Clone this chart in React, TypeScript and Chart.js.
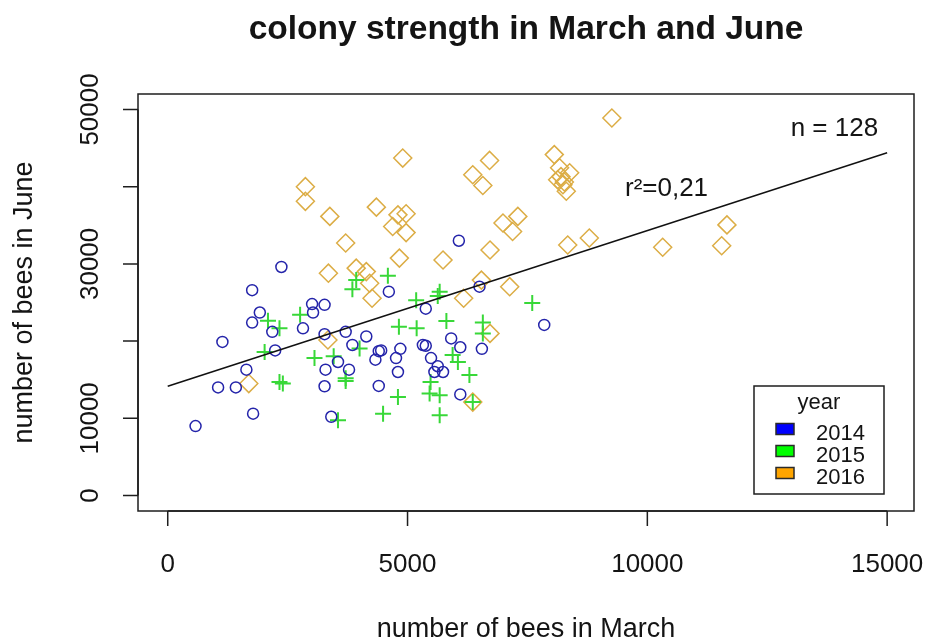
import React, { useEffect, useRef } from "react";
import { Chart, registerables } from "chart.js";

Chart.register(...registerables);

// ---- data ----
const march2014 = [580, 1050, 1420, 1640, 1780, 1140, 1760, 1920, 1760, 2370, 2180, 2240, 2820, 3010, 3270, 3030, 3270, 3710, 3850, 4140, 4450, 4400, 4850, 5320, 5380, 5910, 6100, 6550, 5380, 4330, 4760, 5490, 3550, 3290, 3780, 4800, 5630, 5560, 5740, 3270, 4400, 6100, 3410, 4610, 6070, 6500, 7850];
const june2014 = [9000, 14000, 14000, 16300, 10600, 19900, 22400, 23700, 26600, 29600, 21200, 18800, 21650, 24800, 24700, 23700, 20900, 21200, 19500, 20600, 18800, 18700, 19000, 19500, 19400, 20350, 19200, 19000, 24200, 17600, 17800, 17800, 17300, 16300, 16300, 16000, 16750, 16000, 16000, 14150, 14200, 13100, 10200, 26400, 33000, 27050, 22100];

const march2015 = [3930, 3850, 4590, 5180, 5670, 5630, 7600, 2090, 2330, 2760, 2020, 3060, 3460, 3710, 3710, 2330, 2400, 4000, 4820, 5190, 5810, 6570, 6570, 5940, 6050, 6290, 5480, 5460, 5670, 5670, 4800, 4490, 3550, 6360];
const june2015 = [27900, 26700, 28450, 25300, 26400, 25850, 24950, 22650, 21650, 23400, 18600, 17800, 18050, 14850, 15200, 14700, 14500, 19050, 21850, 21650, 22600, 22400, 21000, 18200, 17300, 15600, 14700, 13200, 13000, 10400, 12750, 10600, 9750, 12100];

const march2016 = [4900, 2870, 2870, 3380, 4350, 4800, 4970, 4690, 4970, 6360, 6710, 6570, 6990, 7300, 7190, 3710, 6720, 4830, 5740, 3350, 3930, 4140, 4210, 4260, 6170, 7130, 6540, 9260, 8060, 8170, 8380, 8130, 8240, 8310, 8340, 8790, 10320, 11660, 11550, 3340, 1690, 6720, 6360, 8200, 8270];
const june2016 = [43700, 40000, 38100, 36150, 37350, 36350, 36500, 34850, 34050, 41550, 43400, 40150, 35300, 36150, 34200, 32700, 31800, 30750, 30500, 28800, 29450, 29000, 27500, 25550, 25550, 27050, 27900, 48900, 44150, 42450, 41800, 40900, 40250, 39400, 32450, 33350, 32150, 35050, 32350, 20150, 14500, 21000, 12100, 41300, 40600];

const fitX = [0, 15000];
const fitY = [14150, 44400];

const years = ["2014", "2015", "2016"];
const legendFill = ["#0000FF", "#00FF00", "#FFA500"];

const xTicks = [0, 5000, 10000, 15000];
const xTickLabels = ["0", "5000", "10000", "15000"];
const yTicks = [0, 10000, 20000, 30000, 40000, 50000];
const yLabelTicks = [0, 10000, 30000, 50000];
const yTickLabels = ["0", "10000", "30000", "50000"];

const titleText = "colony strength in March and June";
const xTitle = "number of bees in March";
const yTitle = "number of bees in June";
const nText = "n = 128";
const nPos = [13900, 46620];
const r2Text = "r\u00B2=0,21";
const r2Pos = [10400, 38740];
const legendTitle = "year";

const FONT = '"Liberation Sans", Arial, sans-serif';
const TEXT = "#141414";

const pts = (xs: number[], ys: number[]) => xs.map((x, i) => ({ x, y: ys[i] }));

const rStylePlugin = {
  id: "rStyle",
  afterDraw(chart: any) {
    const { ctx, chartArea, scales } = chart;
    const { left, right, top, bottom } = chartArea;
    const xs = scales.x;
    const ys = scales.y;
    ctx.save();
    ctx.strokeStyle = "#1e1e1e";
    ctx.lineWidth = 1.5;
    // box
    ctx.strokeRect(left, top, right - left, bottom - top);

    // x axis
    ctx.beginPath();
    const xa = xs.getPixelForValue(xTicks[0]);
    const xb = xs.getPixelForValue(xTicks[xTicks.length - 1]);
    ctx.moveTo(xa, bottom);
    ctx.lineTo(xb, bottom);
    xTicks.forEach((v) => {
      const p = xs.getPixelForValue(v);
      ctx.moveTo(p, bottom);
      ctx.lineTo(p, bottom + 15);
    });
    ctx.stroke();
    ctx.fillStyle = TEXT;
    ctx.font = `26px ${FONT}`;
    ctx.textAlign = "center";
    ctx.textBaseline = "alphabetic";
    xTicks.forEach((v, i) => {
      ctx.fillText(xTickLabels[i], xs.getPixelForValue(v), 571.5);
    });

    // y axis
    ctx.beginPath();
    const ya = ys.getPixelForValue(yTicks[0]);
    const yb = ys.getPixelForValue(yTicks[yTicks.length - 1]);
    ctx.moveTo(left, ya);
    ctx.lineTo(left, yb);
    yTicks.forEach((v) => {
      const p = ys.getPixelForValue(v);
      ctx.moveTo(left, p);
      ctx.lineTo(left - 15, p);
    });
    ctx.stroke();
    yLabelTicks.forEach((v, i) => {
      ctx.save();
      ctx.translate(98, ys.getPixelForValue(v));
      ctx.rotate(-Math.PI / 2);
      ctx.fillText(yTickLabels[i], 0, 0);
      ctx.restore();
    });

    // axis titles
    ctx.font = `27px ${FONT}`;
    ctx.fillText(xTitle, (left + right) / 2, 637);
    ctx.save();
    ctx.translate(32, (top + bottom) / 2);
    ctx.rotate(-Math.PI / 2);
    ctx.fillText(yTitle, 0, 0);
    ctx.restore();

    // main title
    ctx.font = `bold 33.5px ${FONT}`;
    ctx.fillText(titleText, (left + right) / 2, 38.5);

    // annotations
    ctx.font = `26px ${FONT}`;
    ctx.fillText(nText, xs.getPixelForValue(nPos[0]), ys.getPixelForValue(nPos[1]));
    ctx.fillText(r2Text, xs.getPixelForValue(r2Pos[0]), ys.getPixelForValue(r2Pos[1]));

    // legend
    const lx = 754, ly = 386, lw = 130, lh = 108;
    ctx.fillStyle = "#ffffff";
    ctx.fillRect(lx, ly, lw, lh);
    ctx.strokeStyle = "#1e1e1e";
    ctx.strokeRect(lx, ly, lw, lh);
    ctx.fillStyle = TEXT;
    ctx.font = `22px ${FONT}`;
    ctx.textAlign = "center";
    ctx.fillText(legendTitle, lx + lw / 2, 409);
    years.forEach((yr, i) => {
      const cy = 429 + i * 22;
      ctx.fillStyle = legendFill[i];
      ctx.fillRect(776, cy - 5.5, 18, 11);
      ctx.strokeStyle = "#2a2a2a";
      ctx.lineWidth = 1.5;
      ctx.strokeRect(776, cy - 5.5, 18, 11);
      ctx.fillStyle = TEXT;
      ctx.textAlign = "left";
      ctx.fillText(yr, 816, cy + 10.5);
    });
    ctx.restore();
  },
};

export default function App() {
  const ref = useRef<HTMLCanvasElement | null>(null);
  useEffect(() => {
    if (!ref.current) return;
    const chart = new Chart(ref.current, {
      type: "scatter",
      data: {
        datasets: [
          {
            type: "line",
            label: "fit",
            data: pts(fitX, fitY),
            borderColor: "#111111",
            borderWidth: 1.5,
            pointRadius: 0,
            fill: false,
            order: 0,
          } as any,
          {
            label: years[0],
            data: pts(march2014, june2014),
            pointStyle: "circle",
            pointRadius: 5.5,
            borderColor: "#2424aa",
            backgroundColor: "rgba(0,0,0,0)",
            borderWidth: 1.5,
            order: 1,
          },
          {
            label: years[1],
            data: pts(march2015, june2015),
            pointStyle: "cross",
            pointRadius: 8,
            borderColor: "#38d838",
            backgroundColor: "rgba(0,0,0,0)",
            borderWidth: 2,
            order: 2,
          },
          {
            label: years[2],
            data: pts(march2016, june2016),
            pointStyle: "rectRot",
            pointRadius: 9,
            borderColor: "#dcad45",
            backgroundColor: "rgba(0,0,0,0)",
            borderWidth: 1.5,
            order: 3,
          },
        ],
      },
      options: {
        responsive: false,
        animation: false,
        events: [],
        layout: { padding: { left: 138, right: 13, top: 94, bottom: 132 } },
        scales: {
          x: { type: "linear", min: -620, max: 15560, display: false },
          y: { type: "linear", min: -2000, max: 52000, display: false },
        },
        plugins: {
          legend: { display: false },
          tooltip: { enabled: false },
          title: { display: false },
        },
      },
      plugins: [rStylePlugin],
    });
    return () => chart.destroy();
  }, []);
  return (
    <div style={{ position: "absolute", left: 0, top: 0, width: 927, height: 643, background: "#fff" }}>
      <canvas ref={ref} width={927} height={643} style={{ display: "block", width: 927, height: 643 }} />
    </div>
  );
}
